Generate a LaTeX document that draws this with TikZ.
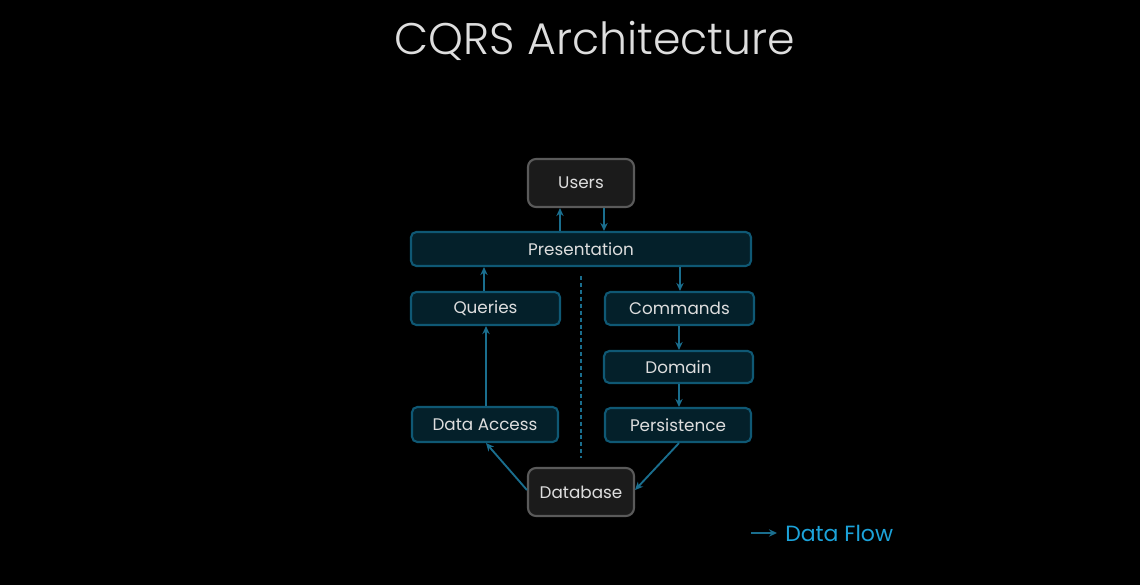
\documentclass[tikz,border=0pt]{standalone}
\usepackage{fontspec}
\setmainfont{Poppins}
\newfontfamily\titlefont{Poppins Light}
\usetikzlibrary{arrows.meta}
\definecolor{bgc}{HTML}{000000}
\definecolor{tealfill}{HTML}{04202A}
\definecolor{tealdraw}{HTML}{0F5874}
\definecolor{grayfill}{HTML}{1B1B1B}
\definecolor{graydraw}{HTML}{5A5A5A}
\definecolor{arrowc}{HTML}{1A6E8E}
\definecolor{txt}{HTML}{DEDEDE}
\definecolor{legendc}{HTML}{1CA3DA}
\def\pxu{0.75pt}
\tikzset{
  box/.style={draw=tealdraw, fill=tealfill, line width=1.6pt, rounded corners=4pt,
    text=txt, font=\fontsize{12.6}{14}\selectfont, inner sep=0pt},
  graybox/.style={draw=graydraw, fill=grayfill, line width=1.6pt, rounded corners=6pt,
    text=txt, font=\fontsize{12.6}{14}\selectfont, inner sep=0pt,
    minimum width={106*\pxu}, minimum height={48*\pxu}},
  flow/.style={draw=arrowc, line width=1.4pt, -{Stealth[length=6pt,width=5.5pt]}},
}
\begin{document}
\begin{tikzpicture}[x=\pxu, y=-\pxu]
\fill[bgc] (0,0) rectangle (1140,585);
\useasboundingbox (0,0) rectangle (1140,585);
\node[text=txt, font=\titlefont\fontsize{33.2}{37}\selectfont] (title) at (595,41) {CQRS Architecture};

\node[graybox] (users) at (581,183) {Users};
\node[box, minimum width={340*\pxu}, minimum height={34*\pxu}] (pres) at (581,249) {Presentation};
\node[box, minimum width={149*\pxu}, minimum height={33*\pxu}] (queries) at (485.5,308.5) {Queries};
\node[box, minimum width={149*\pxu}, minimum height={33*\pxu}] (commands) at (679.5,308.5) {Commands};
\node[box, minimum width={149*\pxu}, minimum height={32*\pxu}] (domain) at (678.5,367) {Domain};
\node[box, minimum width={146*\pxu}, minimum height={35*\pxu}] (dataacc) at (485,424.5) {Data Access};
\node[box, minimum width={146*\pxu}, minimum height={34*\pxu}] (persist) at (678,425) {Persistence};
\node[graybox] (db) at (581,492) {Database};

\coordinate (dtop) at (581,276);
\coordinate (dbot) at (581,458);
\draw[arrowc, line width=1pt, dash pattern=on 3pt off 2.2pt] (dtop) -- (dbot);

\draw[flow] (pres.north -| 560,0) -- (users.south -| 560,0);
\draw[flow] (users.south -| 604,0) -- (pres.north -| 604,0);
\draw[flow] (queries.north -| 484,0) -- (pres.south -| 484,0);
\draw[flow] (pres.south -| 680,0) -- (commands.north -| 680,0);
\draw[flow] (commands.south -| 679,0) -- (domain.north -| 679,0);
\draw[flow] (domain.south -| 679,0) -- (persist.north -| 679,0);
\draw[flow] (dataacc.north -| 486,0) -- (queries.south -| 486,0);
\draw[flow] (db.west |- 0,490) -- (dataacc.south -| 486,0);
\draw[flow] (persist.south -| 679,0) -- (db.east |- 0,490);

\coordinate (lgA) at (751,533);
\coordinate (lgB) at (777,533);
\draw[flow] (lgA) -- (lgB);
\node[anchor=west, text=legendc, font=\fontsize{16.5}{19}\selectfont, inner sep=0pt] (legend) at (785,533) {Data Flow};
\end{tikzpicture}
\end{document}
